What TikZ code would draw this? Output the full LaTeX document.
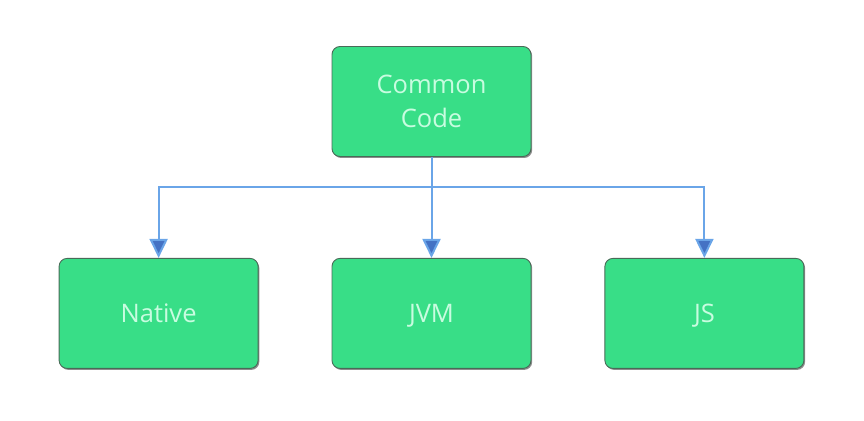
\documentclass[tikz,border=0pt]{standalone}
\usepackage{fontspec}
\setmainfont{Open Sans}
\usetikzlibrary{arrows.meta,shadows,positioning}
\definecolor{boxgreen}{HTML}{38DE87}
\definecolor{boxedge}{HTML}{4A6A58}
\definecolor{boxtext}{HTML}{C8FCE0}
\definecolor{linkblue}{HTML}{6AA5E8}
\definecolor{tipblue}{HTML}{4472C4}

\begin{document}
\begin{tikzpicture}[x=1pt, y=1pt, node distance=101pt and 73pt,
  box/.style = {draw=boxedge, line width=0.9pt, fill=boxgreen, rounded corners=8pt,
    minimum width=199pt, minimum height=110pt, inner sep=0pt, align=center,
    text depth=0pt, text=boxtext, font=\fontsize{25.5}{34.5}\selectfont,
    drop shadow={shadow xshift=1.2pt, shadow yshift=-1.5pt, fill=black, opacity=0.45}},
  link/.style = {draw=linkblue, line width=2pt,
    -{Triangle[width=18pt, length=19pt, fill=tipblue]}}]
\useasboundingbox (0,0) rectangle (864,420);
\node[box] (common) at (431.5,318.5) {Common\\Code};
\node[box] (jvm) [below=of common] {JVM};
\node[box] (native) [left=of jvm] {Native};
\node[box] (js) [right=of jvm] {JS};
\coordinate (split) at ([yshift=-30.5pt]common.south);
\draw[link] (common.south) -- (split) -| (native.north);
\draw[link] (common.south) -- (jvm.north);
\draw[link] (common.south) -- (split) -| (js.north);
\end{tikzpicture}
\end{document}
